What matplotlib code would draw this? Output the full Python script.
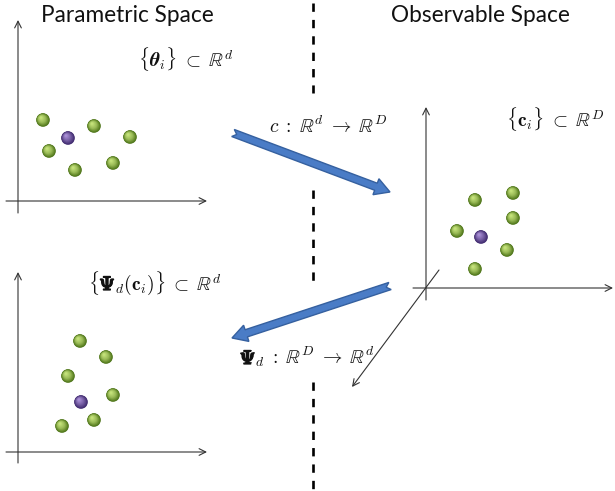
import numpy as np
import matplotlib
matplotlib.use("Agg")
import matplotlib.pyplot as plt
import matplotlib.patheffects as pe
from matplotlib.patches import Circle, Polygon

plt.rcParams['mathtext.fontset'] = 'cm'
plt.rcParams['lines.scale_dashes'] = False

# ---- data (pixel-space layout of the diagram) ----
titles = ["Parametric Space", "Observable Space"]
title_pos = [(127, 15), (480, 15)]

param_x = [43, 68, 94, 130, 49, 75, 113]
param_y = [120, 138, 126, 137, 151, 170, 163]
param_kind = ["g", "p", "g", "g", "g", "g", "g"]

obs_x = [475, 513, 513, 457, 481, 507, 475]
obs_y = [200, 193, 218, 231, 237, 250, 269]
obs_kind = ["g", "g", "g", "g", "p", "g", "g"]

rec_x = [80, 106, 68, 113, 81, 94, 62]
rec_y = [341, 357, 376, 395, 402, 420, 426]
rec_kind = ["g", "g", "g", "g", "p", "g", "g"]

labels = [r"$\{\boldsymbol{\theta}_i\}\;\subset\;\mathbb{R}^d$",
          r"$\{\mathbf{c}_i\}\;\subset\;\mathbb{R}^D$",
          r"$\{\Psi_d(\mathbf{c}_i)\}\;\subset\;\mathbb{R}^d$",
          r"$c\;:\;\mathbb{R}^d\;\rightarrow\;\mathbb{R}^D$",
          r"$\Psi_d\;:\;\mathbb{R}^D\;\rightarrow\;\mathbb{R}^d$"]
# centre x, baseline y
label_pos = [(186, 66), (555, 126), (155, 290), (328, 133), (307, 364)]
# prefix before a bold Psi (None = no Psi)
psi_prefix = [None, None, r"$\{$", None, ""]

# block arrows: (tail, tip)
block_arrows = [((233, 133), (390, 192)), ((390, 286), (232, 338))]

# dashed divider segments (y0, y1) at x = 313
divider_x = 313
divider_segments = [(3, 93), (190, 281), (382, 491)]

# axes: (start, end) pairs with arrowhead at end
axis_arrows = [((18, 213), (18, 20)), ((6, 201), (207, 201)),
               ((18, 463), (18, 272)), ((6, 452), (207, 452)),
               ((426, 300), (426, 107)), ((413, 288), (613, 288)),
               ((439, 270), (352, 387))]

W, H = 615, 491
fig = plt.figure(figsize=(W / 100, H / 100), dpi=100)
ax = fig.add_axes([0, 0, 1, 1])
ax.set_xlim(0, W)
ax.set_ylim(H, 0)
ax.set_aspect('auto')
ax.axis('off')

# titles
for t, (x, y) in zip(titles, title_pos):
    ax.text(x, y, t, fontsize=16.3, family='Lato', ha='center', va='center', color='#111111')

# divider
for y0, y1 in divider_segments:
    ax.plot([divider_x, divider_x], [y0, y1], color='black', lw=1.9,
            dashes=(6.0, 5.8), solid_capstyle='butt', dash_capstyle='butt')

# axes arrows
for (x0, y0), (x1, y1) in axis_arrows:
    ax.annotate('', xy=(x1, y1), xytext=(x0, y0),
                arrowprops=dict(arrowstyle='->', color='#333333', lw=0.8,
                                shrinkA=0, shrinkB=0, mutation_scale=12))

# spheres
palette = {"g": ("#4d7418", "#c4e27a"), "p": ("#3f2a6e", "#a98fd6")}


def sphere(x, y, kind, r=6.8):
    dark, light = palette[kind]
    c0 = np.array(matplotlib.colors.to_rgb(dark))
    c1 = np.array(matplotlib.colors.to_rgb(light))
    mid = c0 * 0.35 + c1 * 0.65 if kind == "g" else c0 * 0.45 + c1 * 0.55
    n = 14
    for k in range(n):
        f = k / (n - 1)
        rr = r * (1 - 0.85 * f)
        dx = -0.3 * r * f
        dy = -0.35 * r * f
        if f < 0.5:
            col = c0 + (mid - c0) * (f / 0.5)
        else:
            col = mid + (c1 - mid) * ((f - 0.5) / 0.5)
        ax.add_patch(Circle((x + dx, y + dy), rr, facecolor=col, edgecolor='none', zorder=3 + k * 0.01))


for xs, ys, ks in [(param_x, param_y, param_kind), (obs_x, obs_y, obs_kind), (rec_x, rec_y, rec_kind)]:
    for x, y, k in zip(xs, ys, ks):
        sphere(x, y, k)

# block arrows


def block_arrow(tail, tip, shaft=7.5, head_w=17, head_l=15, notch=4):
    p0 = np.array(tail, float)
    p1 = np.array(tip, float)
    d = p1 - p0
    L = np.hypot(*d)
    u = d / L
    n = np.array([-u[1], u[0]])
    hb = p1 - u * head_l
    pts = [p0 + n * shaft / 2, hb + n * shaft / 2, hb + n * head_w / 2, p1,
           hb - n * head_w / 2, hb - n * shaft / 2, p0 - n * shaft / 2, p0 + u * notch]
    ax.add_patch(Polygon(pts, closed=True, facecolor='#4a7cc6', edgecolor='#35609f', lw=1.0, zorder=4))


for tail, tip in block_arrows:
    block_arrow(tail, tip)

# labels
FS = 14
TXT = '#111111'
fig.canvas.draw()
renderer = fig.canvas.get_renderer()
inv = ax.transData.inverted()
for s, (x, y), pre in zip(labels, label_pos, psi_prefix):
    t = ax.text(x, y, s, fontsize=FS, ha='center', va='baseline', color=TXT, zorder=5)
    if pre is None:
        continue
    bb = t.get_window_extent(renderer)
    x0 = inv.transform((bb.x0, 0))[0]
    if pre:
        tp = ax.text(0, 0, pre, fontsize=FS)
        w = tp.get_window_extent(renderer).width
        tp.remove()
        x0 = inv.transform((bb.x0 + w, 0))[0]
    ax.text(x0, y, r"$\Psi$", fontsize=FS, ha='left', va='baseline', color=TXT, zorder=6,
            path_effects=[pe.withStroke(linewidth=1.1, foreground=TXT)])

fig.savefig('out.png', dpi=100)
